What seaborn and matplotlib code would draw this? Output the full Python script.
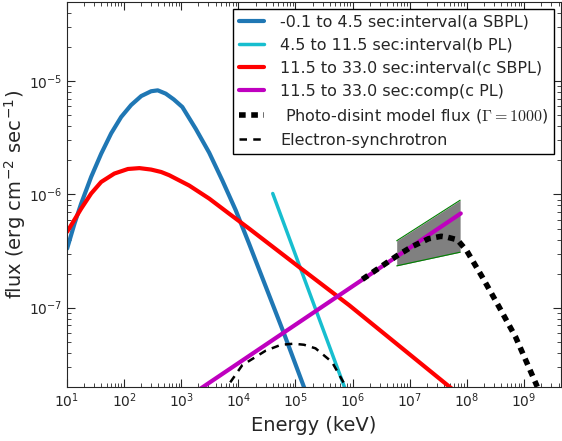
import matplotlib

matplotlib.use("Agg")

import matplotlib.pyplot as plt
import seaborn as sns

# interval (a) SBPL, keV vs erg cm^-2 s^-1
blue_E = [10.1, 13.6, 17.8, 26.6, 39.8, 59.6, 89.1, 133, 200, 298, 389, 537, 741,
          1047, 1800, 3090, 5250, 9020, 15400, 63000, 158000]
blue_F = [3.33e-7, 5.53e-7, 8.32e-7, 1.43e-6, 2.29e-6, 3.47e-6, 4.84e-6, 6.17e-6,
          7.41e-6, 8.17e-6, 8.32e-6, 7.78e-6, 6.92e-6, 5.93e-6, 3.80e-6, 2.34e-6,
          1.33e-6, 7.24e-7, 3.68e-7, 5.9e-8, 1.7e-8]

# interval (b) PL
cyan_E = [4.0e4, 7.9e5]
cyan_F = [1.02e-6, 1.75e-8]

# interval (c) SBPL
red_E = [10.1, 17.8, 26.6, 39.8, 67.6, 117, 186, 298, 447, 617, 1380, 3090, 6920,
         15400, 115000, 871000, 5.6e7]
red_F = [4.68e-7, 7.5e-7, 1.02e-6, 1.29e-6, 1.53e-6, 1.68e-6, 1.71e-6, 1.66e-6,
         1.58e-6, 1.48e-6, 1.20e-6, 9.2e-7, 6.76e-7, 5.0e-7, 2.29e-7, 1.05e-7, 1.9e-8]

# interval (c) PL component
mag_E = [2000, 7.8e7]
mag_F = [1.87e-8, 6.8e-7]

# PL butterfly
band_E = [5.9e6, 7.6e7]
band_hi = [3.9e-7, 8.9e-7]
band_lo = [2.34e-7, 3.09e-7]

# photo-disintegration model
pd_E = [1.48e6, 6.0e6, 1.1e7, 2.14e7, 3.55e7, 4.47e7, 6.8e7, 1.0e8, 1.86e8,
        3.63e8, 7.1e8, 1.2e9, 1.7e9]
pd_F = [1.78e-7, 2.88e-7, 3.47e-7, 4.07e-7, 4.27e-7, 4.2e-7, 3.98e-7, 3.16e-7,
        1.86e-7, 1.02e-7, 5.5e-8, 3.0e-8, 2.0e-8]

# electron synchrotron
es_E = [5250, 11700, 30200, 56000, 93000, 141000, 224000, 437000, 708000, 760000]
es_F = [1.74e-8, 3.1e-8, 4.17e-8, 4.7e-8, 4.8e-8, 4.7e-8, 4.37e-8, 3.3e-8, 2.14e-8,
        1.9e-8]

sns.set_style("ticks")
plt.rcParams["font.family"] = ["DejaVu Sans"]
plt.rcParams["mathtext.fontset"] = "cm"
plt.rcParams["axes.unicode_minus"] = False

fig = plt.figure(figsize=(5.62, 4.41), dpi=100)
ax = fig.add_axes([0.119, 0.123, 0.879, 0.872])
ax.set_xscale("log")
ax.set_yscale("log")

sns.lineplot(x=blue_E, y=blue_F, ax=ax, color="#1f77b4", lw=3, sort=False,
             label="-0.1 to 4.5 sec:interval(a SBPL)")
sns.lineplot(x=cyan_E, y=cyan_F, ax=ax, color="#17becf", lw=2.5, sort=False,
             label="4.5 to 11.5 sec:interval(b PL)")
sns.lineplot(x=red_E, y=red_F, ax=ax, color="red", lw=3, sort=False,
             label="11.5 to 33.0 sec:interval(c SBPL)")
ax.fill_between(band_E, band_lo, band_hi, color="gray", lw=0, zorder=2)
ax.plot(band_E, band_hi, color="green", lw=0.8, zorder=2)
ax.plot(band_E, band_lo, color="green", lw=0.8, zorder=2)
sns.lineplot(x=mag_E, y=mag_F, ax=ax, color="m", lw=3, sort=False,
             label="11.5 to 33.0 sec:comp(c PL)")
sns.lineplot(x=pd_E, y=pd_F, ax=ax, color="black", lw=4, ls=(0, (1.2, 1.0)),
             sort=False, label=r" Photo-disint model flux ($\Gamma=1000$)")
sns.lineplot(x=es_E, y=es_F, ax=ax, color="black", lw=1.8, ls=(0, (3, 2.5)),
             sort=False, label="Electron-synchrotron")

ax.set_xlim(10, 4.4e9)
ax.set_ylim(2e-8, 5e-5)
ax.set_xlabel("Energy (keV)", fontsize=14)
ax.set_ylabel(r"flux (erg cm$^{\mathdefault{-2}}$ sec$^{\mathdefault{-1}}$)", fontsize=14)
ax.yaxis.set_label_coords(-0.079, 0.5)
ax.tick_params(which="both", direction="in", top=True, right=True, labelsize=10)
ax.tick_params(which="major", length=6)
ax.tick_params(which="minor", length=3)

leg = ax.legend(loc="upper right", fontsize=11.5, fancybox=False, framealpha=1,
                labelspacing=0.5, handlelength=1.55, handletextpad=1.0,
                borderaxespad=0.4)
leg.get_frame().set_edgecolor("black")

fig.savefig("out.png", dpi=100)
